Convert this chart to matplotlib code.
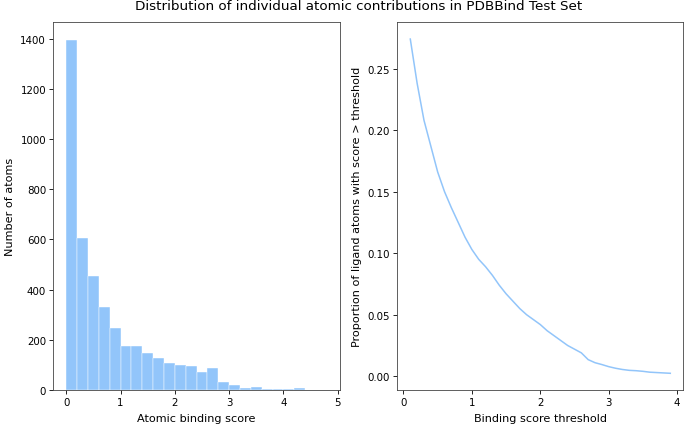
import numpy as np
import matplotlib
matplotlib.use("Agg")
import matplotlib.pyplot as plt

# histogram counts per 0.2-wide bin of atomic binding score
bin_edges = [0.0, 0.2, 0.4, 0.6, 0.8, 1.0, 1.2, 1.4, 1.6, 1.8, 2.0, 2.2,
             2.4, 2.6, 2.8, 3.0, 3.2, 3.4, 3.6, 3.8, 4.0, 4.2, 4.4, 4.6, 4.8]
bin_counts = [1395, 604, 454, 329, 247, 174, 174, 147, 129, 107, 99, 94,
              73, 88, 33, 20, 9, 12, 5, 5, 5, 7, 1, 1]

# proportion of ligand atoms above each threshold
thresholds = [0.1, 0.2, 0.3, 0.4, 0.5, 0.6, 0.7, 0.8, 0.9, 1.0,
              1.1, 1.2, 1.3, 1.4, 1.5, 1.6, 1.7, 1.8, 1.9, 2.0,
              2.1, 2.2, 2.3, 2.4, 2.5, 2.6, 2.7, 2.8, 2.9, 3.0,
              3.1, 3.2, 3.3, 3.4, 3.5, 3.6, 3.7, 3.8, 3.9]
proportions = [0.274, 0.238, 0.208, 0.187, 0.166, 0.150, 0.137, 0.125, 0.113, 0.103,
               0.095, 0.089, 0.082, 0.074, 0.067, 0.061, 0.055, 0.050, 0.046, 0.042,
               0.037, 0.033, 0.029, 0.025, 0.022, 0.019, 0.0135, 0.011, 0.0095, 0.0078,
               0.0065, 0.0055, 0.0048, 0.0045, 0.0040, 0.0033, 0.0030, 0.0027, 0.0024]

color = '#92c5fa'
tick_fs = 7.4
label_fs = 8.1

plt.rcParams.update({
    'xtick.major.size': 2.6, 'ytick.major.size': 2.6,
    'xtick.major.width': 0.6, 'ytick.major.width': 0.6,
    'xtick.major.pad': 2.6, 'ytick.major.pad': 2.6,
    'axes.labelpad': 3.8, 'axes.linewidth': 0.6,
})

fig = plt.figure(figsize=(6.85, 4.27), dpi=100)
ax1 = fig.add_axes([0.0778, 0.0843, 0.4185, 0.861])
ax2 = fig.add_axes([0.580, 0.0843, 0.4175, 0.861])

# left: histogram
centers = np.array(bin_edges[:-1]) + 0.1
ax1.hist(centers, bins=bin_edges, weights=bin_counts, color=color,
         edgecolor='white', linewidth=0.3)
ax1.set_xticks([0, 1, 2, 3, 4, 5])
ax1.set_xlabel('Atomic binding score', fontsize=label_fs)
ax1.set_ylabel('Number of atoms', fontsize=label_fs)

# right: proportion above threshold
ax2.plot(thresholds, proportions, color=color, linewidth=1.1)
ax2.set_xticks([0, 1, 2, 3, 4])
ax2.set_xlabel('Binding score threshold', fontsize=label_fs)
ax2.set_ylabel('Proportion of ligand atoms with score > threshold', fontsize=label_fs)

for ax in (ax1, ax2):
    ax.tick_params(labelsize=tick_fs)
    for s in ax.spines.values():
        s.set_color('#444444')

fig.suptitle('Distribution of individual atomic contributions in PDBBind Test Set',
             fontsize=9.7, x=0.523, y=0.984, va='center')

fig.savefig('out.png', dpi=100)
